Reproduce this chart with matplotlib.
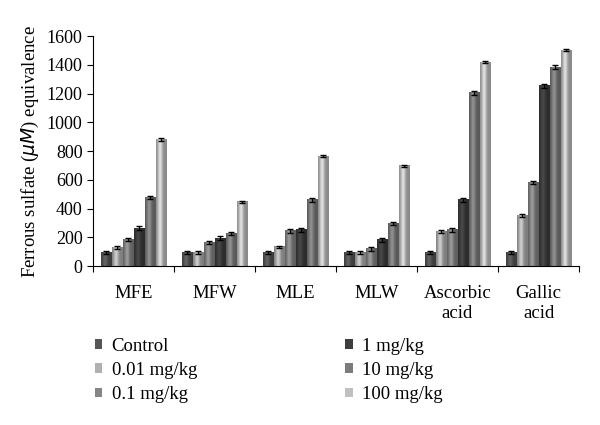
import numpy as np
import matplotlib
matplotlib.use('Agg')
from matplotlib import pyplot as plt
from matplotlib.colors import to_rgb

plt.rcParams['font.family'] = ['Liberation Serif', 'DejaVu Serif']

# 数据
groups = ['MFE', 'MFW', 'MLE', 'MLW', 'Ascorbic\nacid', 'Gallic\nacid']
doses = ['Control', '0.01 mg/kg', '0.1 mg/kg', '1 mg/kg', '10 mg/kg', '100 mg/kg']
control = [95, 95, 95, 95, 95, 95]
d001 = [130, 95, 133, 95, 240, 351]
d01 = [184, 163, 244, 119, 251, 581]
d1 = [263, 193, 251, 181, 460, 1253]
d10 = [477, 226, 460, 298, 1205, 1384]
d100 = [881, 447, 765, 698, 1419, 1502]
errors = [10, 8, 12, 15, 12, 8]

series = [control, d001, d01, d1, d10, d100]
colors = ['#565656', '#b0b0b0', '#858585', '#3e3e3e', '#7c7c7c', '#c0c0c0']

# 圆柱形明暗
prof = np.linspace(-1, 1, 40)
shade = 0.72 + 0.45 * np.exp(-((prof + 0.25) / 0.45) ** 2)

fig = plt.figure(figsize=(6, 4.25), dpi=100)
ax = fig.add_axes([0.155, 0.374, 0.81, 0.541])

x = np.arange(len(groups))
w = 0.136
for i, vals in enumerate(series):
    pos = x + (i - 2.5) * w
    bars = ax.bar(pos, vals, width=w * 0.95, color=colors[i], edgecolor='none',
                  label=doses[i])
    base = np.array(to_rgb(colors[i]))
    grad = np.clip(base[None, None, :] * shade[None, :, None], 0, 1)
    for b in bars:
        bx, by = b.get_x(), b.get_y()
        ax.imshow(grad, extent=(bx, bx + b.get_width(), by, by + b.get_height()),
                  aspect='auto', zorder=2, interpolation='bilinear')
    ax.errorbar(pos, vals, yerr=errors[i], fmt='none', ecolor='black',
                elinewidth=1, capsize=2.5, capthick=1, zorder=3)

ax.set_xlim(-0.5, len(groups) - 0.5)
ax.set_ylim(0, 1600)
ax.set_yticks(range(0, 1601, 200))
ax.set_xticks(np.arange(-0.5, len(groups), 1.0))
ax.set_xticklabels([])
ax.set_xticks(x, minor=True)
ax.set_xticklabels(groups, minor=True, fontsize=13.5, linespacing=1.2)
ax.tick_params(axis='x', which='minor', length=0, pad=14)
ax.tick_params(axis='x', which='major', length=4, direction='out')
ax.tick_params(axis='y', labelsize=13, length=4, direction='out')
ax.spines['top'].set_visible(False)
ax.spines['right'].set_visible(False)
ax.set_ylabel('Ferrous sulfate ($\\mu M$) equivalence', fontsize=13.5, labelpad=4)

fig.legend(loc='upper left', bbox_to_anchor=(0.13, 0.245), ncol=2,
           frameon=False, fontsize=13.5, handlelength=0.4, handleheight=0.4,
           handletextpad=0.5, columnspacing=7.9, labelspacing=0.38)

plt.savefig('out.png', dpi=100)
